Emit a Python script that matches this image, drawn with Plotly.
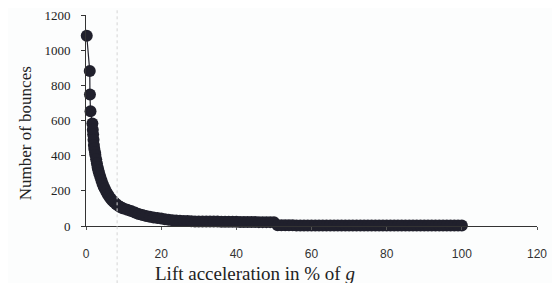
import plotly.graph_objects as go

# Lift acceleration (% of g)
lift = [0.2, 1.0, 1.05, 1.2, 1.7, 1.8, 1.9, 2.0, 2.1, 2.2, 2.4, 2.5, 2.7, 2.9, 3.1, 3.3,
        3.5, 3.8, 4.1, 4.4, 4.7, 5.0, 5.4, 5.8, 6.2, 6.6, 7.0, 7.5, 8.0, 8.5, 9.0, 9.5,
        10, 11, 12, 13, 14, 15, 16, 17, 18, 19, 20, 21, 22, 23, 24, 25, 26, 27, 28, 29,
        30, 31, 32, 33, 34, 35, 36, 37, 38, 39, 40, 41, 42, 43, 44, 45, 46, 47, 48, 49,
        50, 51, 52, 53, 54, 55, 56, 57, 58, 59, 60, 61, 62, 63, 64, 65, 66, 67, 68, 69,
        70, 71, 72, 73, 74, 75, 76, 77, 78, 79, 80, 81, 82, 83, 84, 85, 86, 87, 88, 89,
        90, 91, 92, 93, 94, 95, 96, 97, 98, 99, 100]

# Number of bounces
bounces = [1082, 881, 748, 653, 583, 548, 520, 490, 460, 440, 420, 404, 380, 355, 333, 315,
           300, 280, 260, 240, 225, 212, 195, 180, 167, 155, 145, 135, 125, 117, 110, 104,
           99, 92, 85, 77, 68, 62, 57, 52, 48, 45, 42, 39, 36, 33, 31, 30, 29, 28, 27, 26,
           26, 26, 25, 25, 25, 25, 24, 24, 24, 24, 24, 23, 23, 23, 23, 23, 22, 22, 22, 22,
           22, 4, 4, 4, 4, 4, 3, 3, 3, 3, 3, 3, 3, 3, 3, 3, 3, 3, 3, 3,
           3, 3, 3, 3, 3, 3, 3, 3, 3, 3, 3, 3, 3, 3, 3, 3, 3, 3, 3, 3,
           3, 3, 3, 3, 3, 3, 3, 3, 3, 3, 3]

x_ticks = [0, 20, 40, 60, 80, 100, 120]
y_ticks = [0, 200, 400, 600, 800, 1000, 1200]

fig = go.Figure()
fig.add_trace(go.Scatter(
    x=lift, y=bounces, mode="lines+markers",
    line=dict(color="#24242e", width=1.2),
    marker=dict(color="#20202c", size=12, line=dict(width=0)),
    showlegend=False, cliponaxis=False,
))

fig.update_layout(
    width=560, height=283,
    margin=dict(l=78, r=31, t=7, b=65),
    paper_bgcolor="#fcfdfd", plot_bgcolor="#fcfdfd",
    xaxis=dict(range=[0, 120], tickvals=x_ticks, ticktext=[str(v) for v in x_ticks],
               showgrid=False, zeroline=False, showline=True, linecolor="#333",
               linewidth=1, ticks="outside", ticklen=3, tickcolor="#555",
               tickfont=dict(family="Liberation Sans, Arial", size=12, color="#333"),
               ticklabelstandoff=14, automargin=False, ticklabeloverflow="allow"),
    yaxis=dict(range=[0, 1200], tickvals=y_ticks, ticktext=[str(v) for v in y_ticks],
               showgrid=False, zeroline=False, showline=True, linecolor="#333",
               linewidth=1, ticks="outside", ticklen=4, tickcolor="#333",
               tickfont=dict(family="Liberation Serif, Times New Roman", size=13, color="#222"),
               ticklabelstandoff=8, automargin=False, ticklabeloverflow="allow"),
    shapes=[dict(type="line", xref="paper", yref="paper", x0=0.069, x1=0.069, y0=-0.3, y1=1.05,
                 line=dict(color="#d5d5d5", width=1, dash="dot"))],
    annotations=[
        dict(text="Lift acceleration in % of <i>g</i>", xref="paper", yref="paper",
             x=0.375, y=-0.225, xanchor="center", yanchor="middle", showarrow=False,
             font=dict(family="Liberation Serif, Times New Roman", size=19, color="#222")),
        dict(text="Number of bounces", xref="paper", yref="paper",
             x=-0.135, y=0.44, xanchor="center", yanchor="middle", showarrow=False,
             textangle=-90,
             font=dict(family="Liberation Serif, Times New Roman", size=17, color="#222")),
    ],
)

fig.write_html("out.html")
